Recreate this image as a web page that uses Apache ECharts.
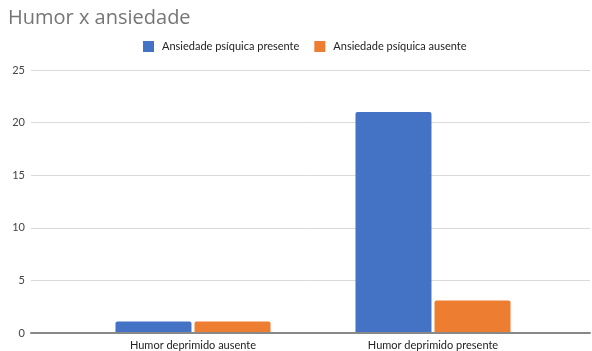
<!DOCTYPE html>
<html>
<head>
<meta charset="utf-8">
<script src="https://cdn.jsdelivr.net/npm/echarts@6/dist/echarts.min.js"></script>
<style>
  html, body { margin: 0; padding: 0; background: #fff; }
  #chart { width: 592px; height: 351px; }
</style>
</head>
<body>
<div id="chart"></div>
<script>
// Categories and series values
const categories = ['Humor deprimido ausente', 'Humor deprimido presente'];
const seriesNames = ['Ansiedade psíquica presente', 'Ansiedade psíquica ausente'];
const presenteValues = [1, 21];
const ausenteValues = [1, 3];
const yTicks = { min: 0, max: 25, interval: 5 };

const TITLE_FONT = '"Open Sans", sans-serif';
const FONT = 'Lato, sans-serif';
const colors = ['#4472C4', '#ED7D31'];

const chart = echarts.init(document.getElementById('chart'), null, { renderer: 'canvas' });

chart.setOption({
  animation: false,
  color: colors,
  textStyle: { fontFamily: FONT },
  title: {
    text: 'Humor x ansiedade',
    left: 3,
    top: 3,
    textStyle: { fontFamily: TITLE_FONT, fontSize: 20, fontWeight: 'normal', color: '#757575' }
  },
  legend: {
    top: 36,
    left: 138,
    itemWidth: 11,
    itemHeight: 11,
    itemGap: 15,
    icon: 'rect',
    textStyle: { fontFamily: FONT, fontSize: 11, color: '#222', padding: [0, 0, 0, 3] },
    data: seriesNames
  },
  grid: [
    // full-width grid: value labels, gridlines and baseline
    { left: 31, right: 2, top: 70, bottom: 18, containLabel: false },
    // bar area
    { left: 73, right: 39, top: 70, bottom: 18, containLabel: false }
  ],
  xAxis: [
    {
      gridIndex: 0, type: 'value', min: 0, max: 1,
      axisLine: { show: true, onZero: false, lineStyle: { color: '#888', width: 2 } },
      axisTick: { show: false }, axisLabel: { show: false }, splitLine: { show: false }
    },
    {
      gridIndex: 1, type: 'category', data: categories,
      axisLine: { show: false }, axisTick: { show: false },
      axisLabel: { fontFamily: FONT, fontSize: 11, color: '#222', margin: 8 }
    }
  ],
  yAxis: [
    {
      gridIndex: 0, type: 'value', min: yTicks.min, max: yTicks.max, interval: yTicks.interval,
      axisLine: { show: false }, axisTick: { show: false },
      axisLabel: { fontFamily: FONT, fontSize: 11, color: '#444', margin: 6 },
      splitLine: { lineStyle: { color: '#d9d9d9', width: 1 } }
    },
    {
      gridIndex: 1, type: 'value', min: yTicks.min, max: yTicks.max, interval: yTicks.interval,
      axisLine: { show: false }, axisTick: { show: false },
      axisLabel: { show: false }, splitLine: { show: false }
    }
  ],
  series: [
    {
      name: seriesNames[0], type: 'bar', xAxisIndex: 1, yAxisIndex: 1,
      data: presenteValues, barWidth: 76, barGap: '4%',
      itemStyle: { color: colors[0], borderRadius: [2, 2, 0, 0] }
    },
    {
      name: seriesNames[1], type: 'bar', xAxisIndex: 1, yAxisIndex: 1,
      data: ausenteValues, barWidth: 76, barGap: '4%',
      itemStyle: { color: colors[1], borderRadius: [2, 2, 0, 0] }
    }
  ]
});
</script>
</body>
</html>
